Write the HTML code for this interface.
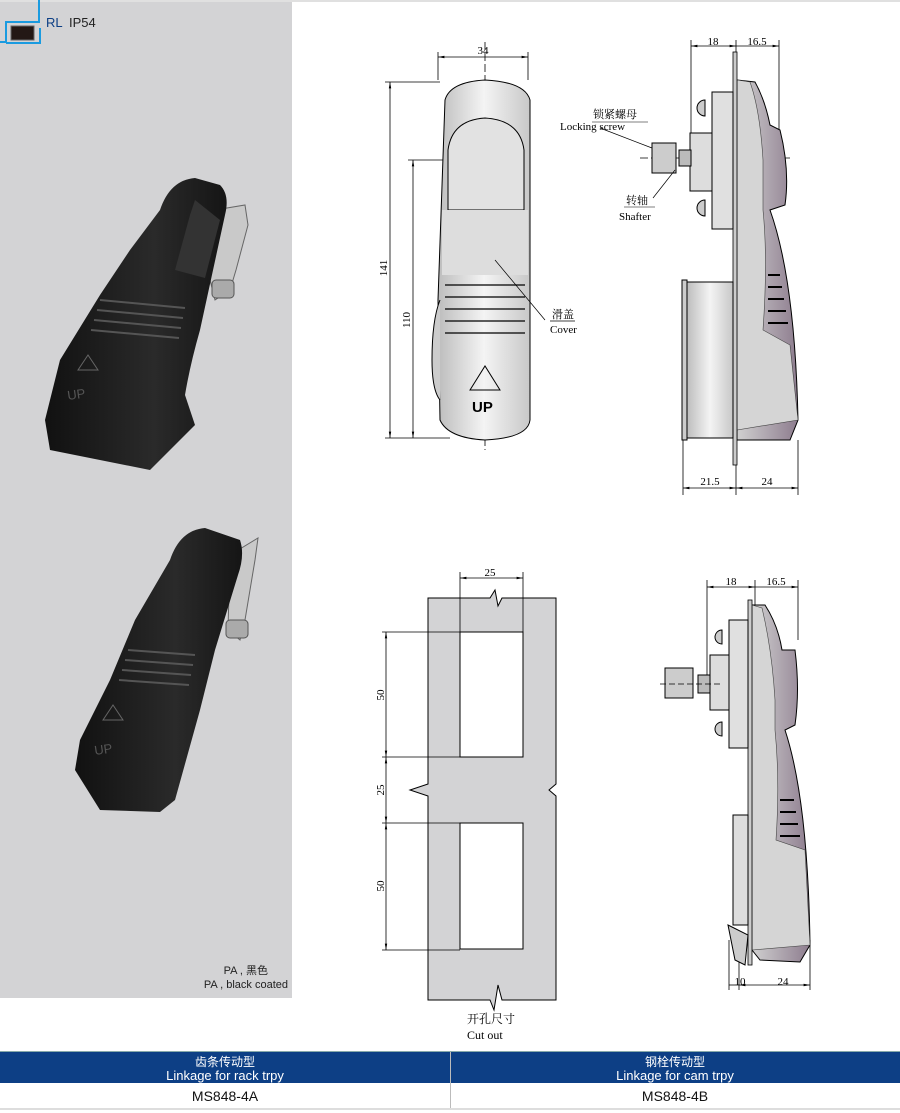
<!DOCTYPE html>
<html><head><meta charset="utf-8"><style>
body{margin:0;width:900px;height:1113px;background:#fff;position:relative;overflow:hidden;font-family:"Liberation Sans","Noto Sans CJK SC",sans-serif}
.t{font-family:"Liberation Serif","Noto Serif CJK SC",serif}
</style></head><body>
<svg width="900" height="1113" style="position:absolute;left:0;top:0" font-family="Liberation Serif, Noto Serif CJK SC, serif">
<defs>
<linearGradient id="g1" x1="0" x2="1"><stop offset="0" stop-color="#bdbdbd"/><stop offset=".5" stop-color="#f4f4f4"/><stop offset="1" stop-color="#c8c8c8"/></linearGradient>
<linearGradient id="gp" x1="0" x2="1"><stop offset="0" stop-color="#d0d0d0"/><stop offset="1" stop-color="#8d7c8e"/></linearGradient>
<linearGradient id="gb" x1="0" x2="1"><stop offset="0" stop-color="#111"/><stop offset=".6" stop-color="#2a2a2a"/><stop offset="1" stop-color="#151515"/></linearGradient>
<marker id="a" markerWidth="8" markerHeight="6" refX="8" refY="3" orient="auto-start-reverse"><path d="M0,1.5 L8,3 L0,4.5z" fill="#000"/></marker>
</defs>
<!-- left panel -->
<rect x="0" y="0" width="292" height="998" fill="#d3d3d5"/>
<rect x="0" y="0" width="900" height="2" fill="#e0e0e0"/>
<path d="M39,0 V22 H6 V42 H0 M40,28 V43 H6" stroke="#1a9be0" stroke-width="2" fill="none"/>
<rect x="11" y="26" width="23" height="14" fill="#231815" stroke="#666" stroke-width="1"/>
<text x="46" y="27" font-family="Liberation Sans, sans-serif" font-size="13" fill="#0d3f85">RL</text>
<text x="69" y="27" font-family="Liberation Sans, sans-serif" font-size="13" fill="#222">IP54</text>
<!-- handle 1 -->
<path d="M215,210 L245,205 L248,225 L236,270 L230,290 L215,300 L210,280 Z" fill="#c9c9c9" stroke="#666"/>
<rect x="212" y="280" width="22" height="18" rx="4" fill="#aaa" stroke="#555"/>
<path d="M160,210 Q170,180 195,178 L220,185 Q230,195 225,215 L200,330 Q190,365 185,395 L195,425 L150,470 L50,450 L45,420 L60,360 L100,295 L130,250 Z" fill="url(#gb)"/>
<path d="M195,200 L190,215 L175,270 L205,278 L220,220 Z" fill="#333"/>
<g stroke="#555" stroke-width="2"><path d="M100,300 L185,308"/><path d="M97,310 L183,318"/><path d="M94,320 L181,328"/><path d="M91,330 L179,338"/></g>
<path d="M78,370 L88,355 L98,370 Z" fill="none" stroke="#666"/>
<text x="68" y="400" font-family="Liberation Sans" font-size="13" fill="#555" transform="rotate(-8 68 400)">UP</text>
<!-- handle 2 -->
<path d="M230,555 L258,538 L255,560 L245,620 L240,640 L228,630 Z" fill="#c9c9c9" stroke="#666"/>
<rect x="226" y="620" width="22" height="18" rx="4" fill="#aaa" stroke="#555"/>
<path d="M170,560 Q180,530 205,528 L240,540 Q245,555 238,575 L215,650 Q205,690 200,710 L175,800 L160,812 L100,810 L75,770 L80,740 L110,680 L135,620 Z" fill="url(#gb)"/>
<g stroke="#555" stroke-width="2"><path d="M128,650 L195,655"/><path d="M125,660 L193,665"/><path d="M122,670 L191,675"/><path d="M119,680 L189,685"/></g>
<path d="M103,720 L113,705 L123,720 Z" fill="none" stroke="#666"/>
<text x="95" y="755" font-family="Liberation Sans" font-size="13" fill="#555" transform="rotate(-8 95 755)">UP</text>
<text x="268" y="974" font-family="Liberation Sans, Noto Sans CJK SC, sans-serif" font-size="11" fill="#222" text-anchor="end">PA , 黑色</text>
<text x="288" y="988" font-family="Liberation Sans, Noto Sans CJK SC, sans-serif" font-size="11" fill="#222" text-anchor="end">PA , black coated</text>

<!-- front view -->
<g stroke="#000" stroke-width="0.8" fill="none">
<path d="M438,52 V80 M528,52 V80"/><path d="M438,57 H528" marker-start="url(#a)" marker-end="url(#a)"/>
<path d="M385,82 H440 M385,438 H450"/><path d="M390,82 V438" marker-start="url(#a)" marker-end="url(#a)"/>
<path d="M408,160 H445"/><path d="M413,160 V438" marker-start="url(#a)" marker-end="url(#a)"/>
<path d="M485,42 V450" stroke-dasharray="8 3"/>
</g>
<text x="483" y="54" font-size="11" text-anchor="middle">34</text>
<text x="387" y="268" font-size="11" transform="rotate(-90 387 268)" text-anchor="middle">141</text>
<text x="410" y="320" font-size="11" transform="rotate(-90 410 320)" text-anchor="middle">110</text>
<path d="M445,100 Q450,82 485,80 Q525,82 530,100 L530,420 Q528,438 485,440 Q448,438 440,420 L438,300 Z" fill="url(#g1)" stroke="#000"/>
<path d="M448,210 L448,150 Q452,120 485,118 Q520,120 524,150 L524,210 Z" fill="#e2e2e2" stroke="#000"/>
<path d="M442,210 L528,210 L528,275 L442,275 Z" fill="#ddd" stroke="none"/>
<path d="M440,300 Q432,320 432,360 Q432,390 440,400" fill="#ccc" stroke="#000"/>
<g stroke="#000" stroke-width="1.2"><path d="M445,285 H525"/><path d="M445,297 H525"/><path d="M445,309 H525"/><path d="M445,321 H525"/><path d="M445,333 H525"/></g>
<path d="M470,390 L485,366 L500,390 Z" fill="none" stroke="#000"/>
<text x="472" y="412" font-family="Liberation Sans" font-weight="bold" font-size="15">UP</text>
<path d="M495,260 L545,320" stroke="#000" stroke-width="0.7"/>
<text x="552" y="318" font-size="11">滑盖</text><path d="M550,321 H575" stroke="#000" stroke-width=".7"/>
<text x="550" y="333" font-size="11">Cover</text>

<!-- side view top -->
<g stroke="#000" stroke-width="0.8" fill="none">
<path d="M691,40 V150 M736,40 V55 M779,40 V140"/><path d="M691,46 H736" marker-start="url(#a)" marker-end="url(#a)"/><path d="M736,46 H779" marker-end="url(#a)"/>
<path d="M683,420 V495 M736,465 V495 M798,440 V495"/><path d="M683,488 H736" marker-start="url(#a)" marker-end="url(#a)"/><path d="M736,488 H798" marker-start="url(#a)" marker-end="url(#a)"/>
<path d="M640,158 H790" stroke-dasharray="8 3"/>
</g>
<text x="713" y="45" font-size="11" text-anchor="middle">18</text>
<text x="757" y="45" font-size="11" text-anchor="middle">16.5</text>
<text x="710" y="485" font-size="11" text-anchor="middle">21.5</text>
<text x="767" y="485" font-size="11" text-anchor="middle">24</text>
<path d="M737,80 L755,82 Q765,100 770,125 L780,130 Q790,170 785,205 L770,210 Q795,280 798,420 L790,440 L737,440 Z" fill="url(#gp)" stroke="#000"/>
<path d="M737,80 L750,82 Q760,110 763,160 L763,210 Q768,260 763,330 L790,345 L798,420 L737,430 Z" fill="#d5d5d5" stroke="#444" stroke-width=".6"/>
<g stroke="#000" stroke-width="2"><path d="M768,275 H780"/><path d="M768,287 H782"/><path d="M768,299 H784"/><path d="M768,311 H786"/><path d="M768,323 H788"/></g>
<rect x="733" y="52" width="4" height="413" fill="#ccc" stroke="#000" stroke-width=".8"/>
<rect x="712" y="92" width="21" height="137" fill="#e0e0e0" stroke="#000"/>
<rect x="690" y="133" width="22" height="58" fill="#ddd" stroke="#000"/>
<path d="M705,100 A8,8 0 0,0 705,116 Z M705,200 A8,8 0 0,0 705,216 Z" fill="#ccc" stroke="#000"/>
<rect x="679" y="150" width="12" height="16" fill="#bbb" stroke="#000"/>
<rect x="652" y="143" width="24" height="30" fill="#ccc" stroke="#000"/>
<rect x="682" y="280" width="5" height="160" fill="#ccc" stroke="#000"/>
<rect x="687" y="282" width="46" height="156" fill="url(#g1)" stroke="#000"/>
<path d="M652,148 L600,128" stroke="#000" stroke-width=".7"/>
<text x="593" y="118" font-size="11">锁紧螺母</text><path d="M592,122 H648" stroke="#000" stroke-width=".6"/>
<text x="560" y="130" font-size="11">Locking screw</text>
<path d="M675,170 L653,198" stroke="#000" stroke-width=".7"/>
<text x="626" y="204" font-size="11">转轴</text><path d="M624,207 H655" stroke="#000" stroke-width=".6"/>
<text x="619" y="220" font-size="11">Shafter</text>

<!-- cutout -->
<path d="M428,598 H490 L495,590 L498,606 L502,598 H556 V784 L549,790 L556,796 V1000 H502 L498,985 L494,1010 L490,1000 H428 V796 L410,790 L428,784 Z" fill="#d3d3d5" stroke="#000"/>
<rect x="460" y="632" width="63" height="125" fill="#fff" stroke="#000"/>
<rect x="460" y="823" width="63" height="126" fill="#fff" stroke="#000"/>
<g stroke="#000" stroke-width="0.8" fill="none">
<path d="M460,572 V632 M523,572 V632"/><path d="M460,578 H523" marker-start="url(#a)" marker-end="url(#a)"/>
<path d="M382,632 H460 M382,757 H460 M382,823 H460 M382,950 H460"/>
<path d="M386,632 V757" marker-start="url(#a)" marker-end="url(#a)"/>
<path d="M386,757 V823" marker-start="url(#a)" marker-end="url(#a)"/>
<path d="M386,823 V950" marker-start="url(#a)" marker-end="url(#a)"/>
</g>
<text x="490" y="576" font-size="11" text-anchor="middle">25</text>
<text x="384" y="695" font-size="11" transform="rotate(-90 384 695)" text-anchor="middle">50</text>
<text x="384" y="790" font-size="11" transform="rotate(-90 384 790)" text-anchor="middle">25</text>
<text x="384" y="886" font-size="11" transform="rotate(-90 384 886)" text-anchor="middle">50</text>
<text x="467" y="1023" font-size="12">开孔尺寸</text>
<text x="467" y="1039" font-size="12">Cut out</text>

<!-- side view bottom -->
<g stroke="#000" stroke-width="0.8" fill="none">
<path d="M707,580 V680 M755,580 V610 M798,580 V640"/><path d="M707,587 H755" marker-start="url(#a)" marker-end="url(#a)"/><path d="M755,587 H798" marker-end="url(#a)"/>
<path d="M729,940 V990 M739,960 V990 M810,940 V990"/><path d="M729,985 H739"/><path d="M739,985 H810" marker-start="url(#a)" marker-end="url(#a)"/>
</g>
<text x="731" y="585" font-size="11" text-anchor="middle">18</text>
<text x="776" y="585" font-size="11" text-anchor="middle">16.5</text>
<text x="740" y="985" font-size="11" text-anchor="middle">10</text>
<text x="783" y="985" font-size="11" text-anchor="middle">24</text>
<path d="M752,605 L765,605 Q778,625 782,650 L795,650 Q800,690 795,725 L785,730 Q808,800 810,945 L800,962 L760,960 L752,950 Z" fill="url(#gp)" stroke="#000"/>
<path d="M752,605 L762,608 Q772,650 775,700 L775,730 Q780,780 776,840 L805,850 L810,945 L752,950 Z" fill="#d5d5d5" stroke="#444" stroke-width=".6"/>
<g stroke="#000" stroke-width="2"><path d="M780,800 H794"/><path d="M780,812 H796"/><path d="M780,824 H798"/><path d="M780,836 H800"/></g>
<rect x="748" y="600" width="4" height="365" fill="#ccc" stroke="#000" stroke-width=".8"/>
<rect x="729" y="620" width="19" height="128" fill="#e0e0e0" stroke="#000"/>
<rect x="710" y="655" width="19" height="55" fill="#ddd" stroke="#000"/>
<path d="M722,630 A7,7 0 0,0 722,644 Z M722,722 A7,7 0 0,0 722,736 Z" fill="#ccc" stroke="#000"/>
<rect x="698" y="675" width="12" height="18" fill="#bbb" stroke="#000"/>
<rect x="665" y="668" width="28" height="30" fill="#ccc" stroke="#000"/>
<path d="M660,684 H720" stroke="#000" stroke-dasharray="6 3" stroke-width=".7"/>
<rect x="733" y="815" width="15" height="110" fill="#ddd" stroke="#000"/>
<path d="M728,925 L748,935 L745,965 L735,960 Z" fill="#ccc" stroke="#000"/>

<!-- table -->
<rect x="0" y="1052" width="900" height="31" fill="#0d3f85"/>
<rect x="0" y="1051" width="900" height="1" fill="#8aa"/>
<rect x="450" y="1052" width="1" height="57" fill="#bbb"/>
<rect x="0" y="1108" width="900" height="2" fill="#ddd"/>
<g font-family="Liberation Sans, Noto Sans CJK SC, sans-serif" text-anchor="middle">
<text x="225" y="1066" font-size="12" fill="#fff">齿条传动型</text>
<text x="225" y="1080" font-size="13" fill="#fff">Linkage for rack trpy</text>
<text x="675" y="1066" font-size="12" fill="#fff">钢栓传动型</text>
<text x="675" y="1080" font-size="13" fill="#fff">Linkage for cam trpy</text>
<text x="225" y="1101" font-size="14" fill="#111">MS848-4A</text>
<text x="675" y="1101" font-size="14" fill="#111">MS848-4B</text>
</g>
</svg>
</body></html>
